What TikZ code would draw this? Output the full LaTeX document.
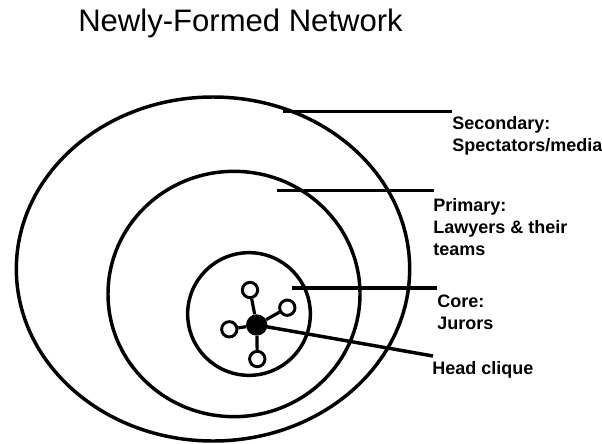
\documentclass[tikz,border=0pt]{standalone}
\usepackage{fontspec}
\setmainfont{Liberation Sans}
\begin{document}
\begin{tikzpicture}[x=0.75pt,y=-0.75pt,
  ring/.style={line width=2.6pt},
  leader/.style={line width=2.6pt},
  lbl/.style={anchor=base west,inner sep=0pt,font=\fontsize{13.5}{16}\selectfont\bfseries},
  member/.style={circle,draw,line width=2.2pt,fill=white,minimum size=11.5pt,inner sep=0pt},
  head/.style={circle,fill=black,minimum size=16pt,inner sep=0pt},
  spoke/.style={line width=2.4pt}]
\useasboundingbox (0,0) rectangle (602,443);
% title
\node[anchor=base west,inner sep=0pt,font=\fontsize{23.3}{28}\selectfont] (title) at (78,31) {Newly-Formed Network};
% rings
\coordinate (cOuter) at (213,269);
\coordinate (cMid) at (234,294);
\coordinate (cCore) at (249,314);
\draw[ring] (cOuter) ellipse [x radius=147.5pt, y radius=129pt];
\draw[ring] (cMid) ellipse [x radius=94.5pt, y radius=92pt];
\draw[ring] (cCore) ellipse [x radius=46pt, y radius=46pt];
% head clique
\node[head] (hd) at (256.7,325) {};
\node[member] (m1) at (250,290) {};
\node[member] (m2) at (287.3,307.7) {};
\node[member] (m3) at (229.3,329.3) {};
\node[member] (m4) at (257.3,359) {};
\foreach \m in {m1,m2,m3,m4} \draw[spoke] (hd) -- (\m);
% leaders
\coordinate (s0) at (283,111.7);
\coordinate (s1) at (452,111.7);
\coordinate (p0) at (277,190.7);
\coordinate (p1) at (434,190.7);
\coordinate (k0) at (292,288);
\coordinate (k1) at (437,288);
\coordinate (h1) at (433,356);
\draw[leader] (s0) -- (s1);
\draw[leader] (p0) -- (p1);
\draw[leader] (k0) -- (k1);
\draw[leader] (hd.center) -- (h1);
% labels
\node[lbl] (sec1) at (452,129.5) {Secondary:};
\node[lbl] (sec2) at (452,151.5) {Spectators/media};
\node[lbl] (pri1) at (433,211) {Primary:};
\node[lbl] (pri2) at (433,233) {Lawyers \& their};
\node[lbl] (pri3) at (433,255) {teams};
\node[lbl] (cor1) at (437,307) {Core:};
\node[lbl] (cor2) at (437,329) {Jurors};
\node[lbl] (hcl) at (432,374) {Head clique};
\end{tikzpicture}
\end{document}
